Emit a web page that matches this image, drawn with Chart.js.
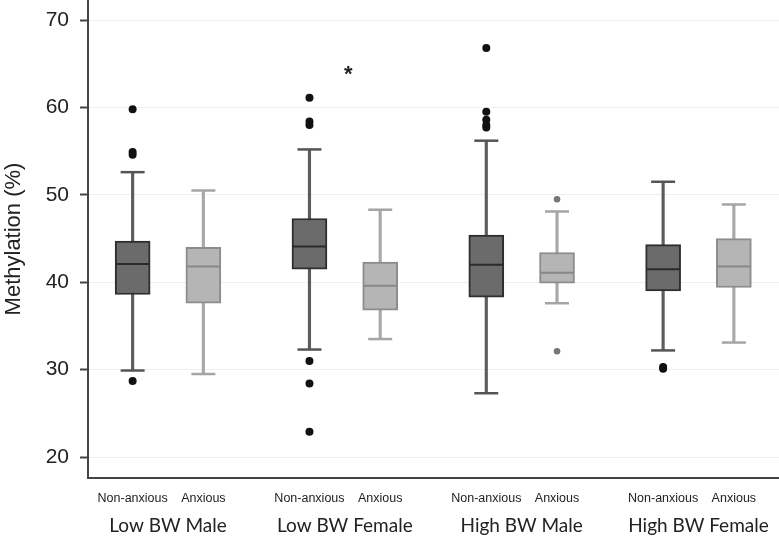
<!DOCTYPE html>
<html>
<head>
<meta charset="utf-8">
<script src="https://cdn.jsdelivr.net/npm/chart.js@4/dist/chart.umd.min.js"></script>
<style>
  html, body { margin: 0; padding: 0; background: #fff; }
  #wrap { width: 779px; height: 537px; position: relative; }
</style>
</head>
<body>
<div id="wrap"><canvas id="chart"></canvas></div>
<script>
// groups along the x axis, two boxes in each
var groups = ['Low BW Male', 'Low BW Female', 'High BW Male', 'High BW Female'];
var subLabels = ['Non-anxious', 'Anxious'];

// Non-anxious boxes (methylation %)
var naMin = [29.9, 32.3, 27.3, 32.2];
var naQ1 = [38.6, 41.5, 38.3, 39.0];
var naMedian = [42.1, 44.1, 42.0, 41.5];
var naQ3 = [44.7, 47.3, 45.4, 44.3];
var naMax = [52.6, 55.2, 56.2, 51.5];
var naOutliers = [
  [59.8, 54.9, 54.6, 28.7],
  [61.1, 58.4, 58.0, 31.0, 28.4, 22.9],
  [66.8, 59.5, 58.6, 58.0, 57.7],
  [30.1, 30.3]
];

// Anxious boxes
var axMin = [29.5, 33.5, 37.6, 33.1];
var axQ1 = [37.6, 36.8, 39.9, 39.4];
var axMedian = [41.8, 39.6, 41.1, 41.8];
var axQ3 = [44.0, 42.3, 43.4, 45.0];
var axMax = [50.5, 48.3, 48.1, 48.9];
var axOutliers = [[], [], [49.5, 32.1], []];

var yTicks = [20, 30, 40, 50, 60, 70];

// significance mark over Low BW Female
var sigGroup = 1;
var sigValue = 64.5;

var half = 0.2; // offset of each box from group centre (x units)

function pos(i, sub) {
  return i + 1 + (sub == 0 ? -half : half);
}

function boxData(lo, hi, sub) {
  return lo.map(function (v, i) { return { x: pos(i, sub), y: [v, hi[i]] }; });
}

function pointData(vals, sub) {
  return vals.map(function (v, i) { return { x: pos(i, sub), y: v }; });
}

function outlierData(list, sub) {
  var arr = [];
  list.forEach(function (vals, i) {
    vals.forEach(function (v) { arr.push({ x: pos(i, sub), y: v }); });
  });
  return arr;
}

var boxTicks = [];
groups.forEach(function (g, i) { boxTicks.push(pos(i, 0), pos(i, 1)); });

var starPlugin = {
  id: 'star',
  afterDatasetsDraw: function (chart) {
    var ctx = chart.ctx;
    var x = chart.scales.x.getPixelForValue(sigGroup + 1 + 0.02);
    var y = chart.scales.y.getPixelForValue(sigValue);
    ctx.save();
    ctx.fillStyle = '#222';
    ctx.font = 'bold 22px "Liberation Sans", Arial, sans-serif';
    ctx.textAlign = 'center';
    ctx.textBaseline = 'alphabetic';
    ctx.fillText('*', x, y + 13);
    ctx.restore();
  }
};

function noPad(scale) {
  scale.paddingTop = 0;
  scale.paddingBottom = 0;
  scale.paddingLeft = 0;
  scale.paddingRight = 0;
}

var ctx = document.getElementById('chart').getContext('2d');
var chart = new Chart(ctx, {
  type: 'bar',
  data: {
    datasets: [
      // whiskers
      { type: 'bar', data: boxData(naMin, naMax, 0), backgroundColor: '#5c5c5c', barThickness: 2.5, grouped: false, order: 6 },
      { type: 'bar', data: boxData(axMin, axMax, 1), backgroundColor: '#a8a8a8', barThickness: 2.5, grouped: false, order: 6 },
      // boxes
      { type: 'bar', label: subLabels[0], data: boxData(naQ1, naQ3, 0), backgroundColor: '#6b6b6b', borderColor: '#2e2e2e', borderWidth: 2, borderSkipped: false, barThickness: 35, grouped: false, order: 4 },
      { type: 'bar', label: subLabels[1], data: boxData(axQ1, axQ3, 1), backgroundColor: '#b5b5b5', borderColor: '#8c8c8c', borderWidth: 2, borderSkipped: false, barThickness: 35, grouped: false, order: 4 },
      // medians
      { type: 'scatter', data: pointData(naMedian, 0), pointStyle: 'line', radius: 16.5, borderColor: '#2a2a2a', borderWidth: 2, order: 2 },
      { type: 'scatter', data: pointData(axMedian, 1), pointStyle: 'line', radius: 16.5, borderColor: '#878787', borderWidth: 2, order: 2 },
      // whisker caps
      { type: 'scatter', data: pointData(naMin, 0).concat(pointData(naMax, 0)), pointStyle: 'line', radius: 12, borderColor: '#555', borderWidth: 2.5, order: 2 },
      { type: 'scatter', data: pointData(axMin, 1).concat(pointData(axMax, 1)), pointStyle: 'line', radius: 12, borderColor: '#a5a5a5', borderWidth: 2.5, order: 2 },
      // outliers
      { type: 'scatter', data: outlierData(naOutliers, 0), pointStyle: 'circle', radius: 4, backgroundColor: '#111', borderColor: '#111', borderWidth: 0, order: 1 },
      { type: 'scatter', data: outlierData(axOutliers, 1), pointStyle: 'circle', radius: 3.3, backgroundColor: '#777', borderColor: '#777', borderWidth: 0, order: 1 }
    ]
  },
  options: {
    responsive: true,
    maintainAspectRatio: false,
    animation: false,
    events: [],
    layout: { padding: 0, autoPadding: false },
    plugins: { legend: { display: false }, tooltip: { enabled: false } },
    scales: {
      x: {
        type: 'linear',
        position: 'bottom',
        weight: 0,
        min: 0.5476,
        max: 4.4553,
        offset: false,
        afterBuildTicks: function (scale) {
          scale.ticks = boxTicks.map(function (v) { return { value: v }; });
        },
        afterFit: function (scale) { scale.height = 30; noPad(scale); },
        grid: { display: false, drawTicks: false, offset: false },
        border: { display: true, color: '#444', width: 2 },
        ticks: {
          autoSkip: false,
          maxRotation: 0,
          padding: 13,
          color: '#222',
          font: { family: '"Liberation Sans", Arial, sans-serif', size: 12.5 },
          callback: function (v, i) { return subLabels[i % 2]; }
        }
      },
      x2: {
        type: 'linear',
        position: 'bottom',
        weight: 1,
        min: 0.5476,
        max: 4.4553,
        offset: false,
        afterBuildTicks: function (scale) {
          scale.ticks = groups.map(function (g, i) { return { value: i + 1 }; });
        },
        afterFit: function (scale) { scale.height = 29; noPad(scale); },
        grid: { display: false, drawTicks: false },
        border: { display: false },
        ticks: {
          autoSkip: false,
          maxRotation: 0,
          padding: 6,
          color: '#222',
          font: { family: 'Lato, "Open Sans", sans-serif', size: 19 },
          callback: function (v, i) { return groups[i]; }
        }
      },
      y: {
        type: 'linear',
        min: 17.6,
        max: 72.3,
        afterBuildTicks: function (scale) {
          scale.ticks = yTicks.map(function (v) { return { value: v }; });
        },
        afterFit: function (scale) { scale.width = 88; noPad(scale); },
        grid: { color: '#efefef', lineWidth: 1, drawTicks: true, tickLength: 8, tickColor: '#444', tickWidth: 2 },
        border: { display: true, color: '#444', width: 2 },
        ticks: {
          padding: 11,
          color: '#222',
          font: { family: '"Liberation Sans", Arial, sans-serif', size: 21 }
        },
        title: {
          display: true,
          text: 'Methylation (%)',
          color: '#222',
          padding: { top: 1, bottom: 0 },
          font: { family: '"Liberation Sans", Arial, sans-serif', size: 22 }
        }
      }
    }
  },
  plugins: [starPlugin]
});
</script>
</body>
</html>
